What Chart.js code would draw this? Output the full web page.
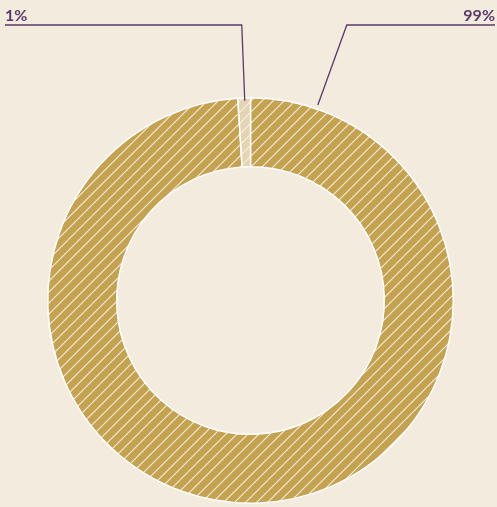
<!DOCTYPE html>
<html><head><meta charset="utf-8">
<script src="https://cdn.jsdelivr.net/npm/chart.js@4"></script>
<style>html,body{margin:0;padding:0;background:#f3ebde;}#wrap{width:497px;height:507px;}</style>
</head><body><div id="wrap"><canvas id="c" width="497" height="507"></canvas></div>
<script>
const categories = ['Share A', 'Share B'];
const values = [99, 1];
const labelsText = ['99%', '1%'];
const baseColors = ['#c4a24f', '#e3d4b3'];
const lineColor = '#5b3a6b';

function makePattern(base) {
  const s = 11;
  const c = document.createElement('canvas');
  c.width = s; c.height = s;
  const x = c.getContext('2d');
  x.fillStyle = base; x.fillRect(0, 0, s, s);
  x.strokeStyle = 'rgba(248,242,230,0.95)';
  x.lineWidth = 1.1;
  x.beginPath();
  x.moveTo(-1, s + 1); x.lineTo(s + 1, -1);
  x.moveTo(-1, 1); x.lineTo(1, -1);
  x.moveTo(s - 1, s + 1); x.lineTo(s + 1, s - 1);
  x.stroke();
  return document.getElementById('c').getContext('2d').createPattern(c, 'repeat');
}

const leaderPlugin = {
  id: 'leaders',
  afterDraw(chart) {
    const ctx = chart.ctx;
    const meta = chart.getDatasetMeta(0);
    const W = chart.width;
    ctx.save();
    ctx.strokeStyle = lineColor;
    ctx.lineWidth = 1.3;
    ctx.fillStyle = lineColor;
    ctx.font = 'bold 16px Lato, "Open Sans", sans-serif';
    ctx.textBaseline = 'alphabetic';
    const yLine = 25;
    const a0 = meta.data[0];
    const cx = a0.x, cy = a0.y, R = a0.outerRadius;
    const ang0 = -Math.PI / 2 + 19 * Math.PI / 180;
    const p0 = {x: cx + (R + 4) * Math.cos(ang0), y: cy + (R + 4) * Math.sin(ang0)};
    ctx.beginPath();
    ctx.moveTo(p0.x, p0.y);
    ctx.lineTo(p0.x + 29, yLine);
    ctx.lineTo(W - 2, yLine);
    ctx.stroke();
    ctx.textAlign = 'right';
    ctx.fillText(labelsText[0], W - 2, 21);
    const a1 = meta.data[1];
    const mid = (a1.startAngle + a1.endAngle) / 2;
    const p1 = {x: cx + (R - 4) * Math.cos(mid), y: cy + (R - 4) * Math.sin(mid)};
    ctx.beginPath();
    ctx.moveTo(p1.x + 0.5, p1.y - 1);
    ctx.lineTo(p1.x - 2.5, yLine);
    ctx.lineTo(5, yLine);
    ctx.stroke();
    ctx.textAlign = 'left';
    ctx.fillText(labelsText[1], 5, 21);
    ctx.restore();
  }
};

new Chart(document.getElementById('c'), {
  type: 'doughnut',
  data: {
    labels: categories,
    datasets: [{
      data: values,
      backgroundColor: baseColors.map(makePattern),
      borderColor: '#ffffff',
      borderWidth: 1.5,
      hoverOffset: 0
    }]
  },
  options: {
    responsive: false,
    animation: false,
    cutout: '66%',
    layout: {padding: {top: 97, bottom: 3, left: 47, right: 43}},
    plugins: {legend: {display: false}, tooltip: {enabled: false}}
  },
  plugins: [leaderPlugin]
});
</script>
</body></html>
